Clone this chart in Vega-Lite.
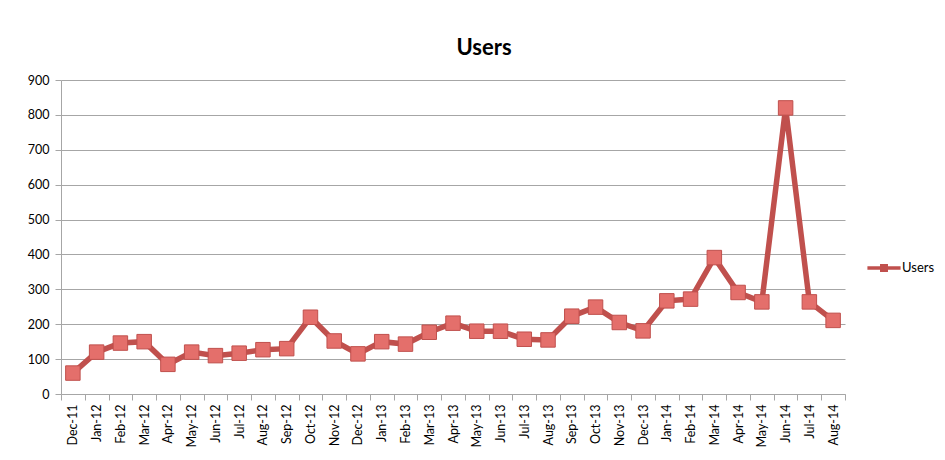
{
  "$schema": "https://vega.github.io/schema/vega-lite/v6.json",
  "width": 784,
  "height": 314,
  "autosize": {"type": "none"},
  "padding": {"left": 61, "top": 80, "right": 100, "bottom": 66},
  "background": "white",
  "title": {"text": "Users", "font": "Lato", "fontSize": 22, "fontWeight": "bold", "color": "#000000", "offset": 14, "dx": 31, "anchor": "middle"},
  "data": {"values": [
    {"month": "Dec-11", "users": 60, "series": "Users"},
    {"month": "Jan-12", "users": 120, "series": "Users"},
    {"month": "Feb-12", "users": 146, "series": "Users"},
    {"month": "Mar-12", "users": 150, "series": "Users"},
    {"month": "Apr-12", "users": 85, "series": "Users"},
    {"month": "May-12", "users": 120, "series": "Users"},
    {"month": "Jun-12", "users": 110, "series": "Users"},
    {"month": "Jul-12", "users": 117, "series": "Users"},
    {"month": "Aug-12", "users": 127, "series": "Users"},
    {"month": "Sep-12", "users": 130, "series": "Users"},
    {"month": "Oct-12", "users": 220, "series": "Users"},
    {"month": "Nov-12", "users": 152, "series": "Users"},
    {"month": "Dec-12", "users": 115, "series": "Users"},
    {"month": "Jan-13", "users": 150, "series": "Users"},
    {"month": "Feb-13", "users": 143, "series": "Users"},
    {"month": "Mar-13", "users": 177, "series": "Users"},
    {"month": "Apr-13", "users": 203, "series": "Users"},
    {"month": "May-13", "users": 180, "series": "Users"},
    {"month": "Jun-13", "users": 180, "series": "Users"},
    {"month": "Jul-13", "users": 157, "series": "Users"},
    {"month": "Aug-13", "users": 155, "series": "Users"},
    {"month": "Sep-13", "users": 223, "series": "Users"},
    {"month": "Oct-13", "users": 249, "series": "Users"},
    {"month": "Nov-13", "users": 205, "series": "Users"},
    {"month": "Dec-13", "users": 181, "series": "Users"},
    {"month": "Jan-14", "users": 267, "series": "Users"},
    {"month": "Feb-14", "users": 272, "series": "Users"},
    {"month": "Mar-14", "users": 391, "series": "Users"},
    {"month": "Apr-14", "users": 291, "series": "Users"},
    {"month": "May-14", "users": 264, "series": "Users"},
    {"month": "Jun-14", "users": 820, "series": "Users"},
    {"month": "Jul-14", "users": 264, "series": "Users"},
    {"month": "Aug-14", "users": 211, "series": "Users"}
  ]},
  "encoding": {
    "x": {"field": "month", "type": "ordinal", "sort": null,
      "scale": {"paddingInner": 0, "paddingOuter": 0},
      "axis": {"title": null, "labelAngle": 270, "labelFont": "Lato", "labelFontSize": 12.5, "labelColor": "#000000", "labelPadding": 4,
        "domainColor": "#A6A6A6", "tickColor": "#A6A6A6", "tickSize": 6, "tickBand": "extent", "grid": false}},
    "y": {"field": "users", "type": "quantitative",
      "scale": {"domain": [0, 900], "nice": false},
      "axis": {"title": null, "values": [0, 100, 200, 300, 400, 500, 600, 700, 800, 900], "labelFont": "Lato", "labelFontSize": 12.5, "labelColor": "#000000", "labelPadding": 6,
        "domainColor": "#A6A6A6", "tickColor": "#A6A6A6", "tickSize": 6, "gridColor": "#A6A6A6", "gridWidth": 1}}
  },
  "layer": [
    {"mark": {"type": "line", "color": "#C0504D", "strokeWidth": 5.5},
     "encoding": {"color": {"field": "series", "type": "nominal", "scale": {"range": ["#C0504D"]},
       "legend": {"title": null, "orient": "none", "legendX": 806, "legendY": 171, "labelFont": "Lato", "labelFontSize": 13, "labelColor": "#000000",
         "symbolType": "M-1,-0.11H1V0.11H-1Z M-0.24,-0.24H0.24V0.24H-0.24Z", "symbolSize": 1100, "symbolFillColor": "#C0504D", "symbolStrokeColor": "#C0504D", "symbolStrokeWidth": 0, "labelOffset": 1}}}},
    {"mark": {"type": "square", "size": 210, "filled": true, "fill": "#E46F6B", "stroke": "#C0504D", "strokeWidth": 1, "opacity": 1}}
  ],
  "config": {"view": {"stroke": null}}
}
